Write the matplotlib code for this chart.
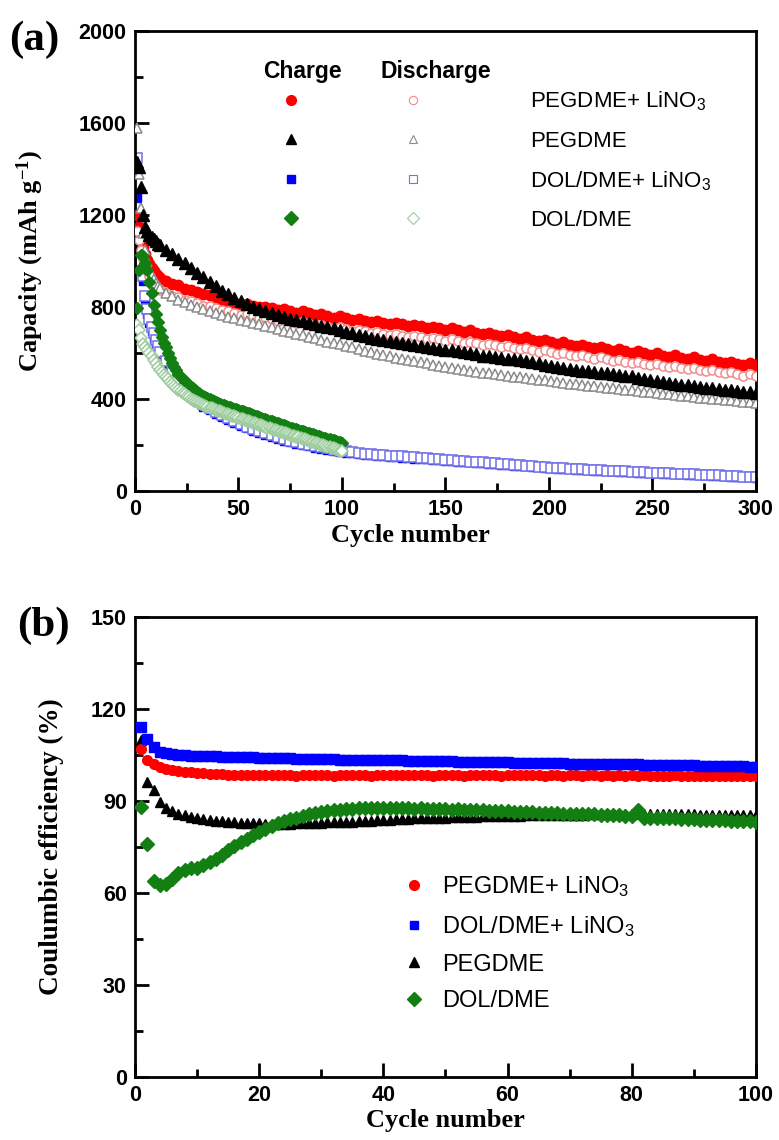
import matplotlib
matplotlib.use('Agg')
import matplotlib.pyplot as plt
from matplotlib.lines import Line2D
from matplotlib.legend_handler import HandlerTuple
from matplotlib.ticker import MultipleLocator

plt.rcParams['mathtext.default'] = 'regular'

# ---------------- (a) capacity vs cycle ----------------
# long runs (300 cycles): every cycle up to 12, then every 3rd cycle
cyc_long = list(range(1, 13)) + list(range(15, 301, 3))

peg_lino3_chg = [1200, 1150, 1100, 1060, 1030, 1005, 985, 968, 955, 945, 935, 928,
                 915, 902, 895, 880, 874, 866, 855, 852, 843, 832, 828, 818, 812, 814, 806, 798,
                 802, 794, 786, 790, 783, 775, 781, 772, 764, 770, 762, 754, 760, 752, 744, 750,
                 741, 733, 739, 731, 724, 731, 724, 716, 723, 716, 708, 715, 707, 700, 707, 699,
                 692, 698, 689, 682, 688, 679, 672, 678, 668, 661, 668, 658, 651, 657, 648, 640,
                 646, 636, 629, 634, 626, 620, 626, 616, 610, 617, 607, 601, 608, 598, 592, 598,
                 589, 583, 590, 580, 574, 581, 571, 565, 572, 562, 556, 563, 553, 548, 556, 550]
peg_lino3_dis = [1130, 1090, 1050, 1010, 980, 955, 935, 918, 905, 893, 883, 875,
                 860, 850, 842, 830, 824, 816, 806, 803, 795, 785, 782, 773, 767, 769, 761, 753,
                 757, 749, 741, 745, 737, 729, 734, 726, 718, 723, 715, 707, 712, 704, 697, 702,
                 694, 686, 692, 684, 677, 683, 676, 669, 675, 668, 661, 667, 660, 653, 659, 652,
                 645, 650, 643, 636, 641, 633, 626, 631, 623, 616, 621, 613, 606, 611, 603, 596,
                 601, 593, 586, 591, 583, 576, 581, 572, 565, 571, 562, 556, 562, 553, 547, 553,
                 544, 538, 544, 535, 529, 535, 526, 520, 526, 517, 511, 517, 508, 502, 508, 500]
peg_chg = [1430, 1410, 1320, 1200, 1150, 1130, 1115, 1105, 1095, 1085, 1075, 1068,
           1048, 1030, 1010, 990, 970, 950, 930, 910, 890, 870, 855, 840, 825, 812, 800, 790,
           781, 772, 764, 757, 750, 743, 737, 731, 725, 719, 713, 707, 700, 693, 686, 680,
           673, 667, 660, 655, 651, 647, 643, 639, 635, 631, 627, 623, 619, 615, 611, 607,
           603, 599, 594, 589, 585, 582, 578, 575, 572, 569, 566, 562, 555, 548, 543, 539,
           535, 531, 527, 523, 520, 517, 514, 511, 508, 505, 502, 498, 493, 488, 483, 478,
           474, 470, 466, 463, 460, 456, 453, 450, 447, 444, 441, 438, 435, 432, 429, 426]
peg_dis = [1580, 1380, 1230, 1120, 1050, 1000, 965, 940, 920, 905, 892, 882,
           862, 846, 832, 820, 809, 799, 790, 781, 773, 765, 758, 751, 744, 737, 731, 725,
           718, 711, 704, 697, 690, 684, 678, 671, 664, 657, 650, 643, 637, 630, 624, 617,
           610, 603, 597, 591, 585, 580, 575, 570, 565, 560, 555, 550, 545, 541, 536, 531,
           527, 523, 519, 515, 511, 508, 504, 500, 497, 494, 490, 487, 484, 481, 478, 475,
           471, 467, 464, 461, 458, 455, 452, 449, 446, 443, 440, 437, 434, 431, 429, 426,
           423, 420, 417, 415, 412, 409, 406, 404, 402, 399, 396, 394, 391, 388, 386, 383]
dol_lino3_chg = [1275, 1060, 975, 915, 830, 770, 730, 695, 665, 637, 612, 590,
                 550, 505, 466, 436, 408, 386, 367, 350, 335, 320, 307, 294, 283, 272, 262, 252,
                 244, 235, 227, 219, 213, 206, 200, 194, 189, 184, 180, 175, 171, 167, 164, 161,
                 158, 155, 153, 151, 149, 147, 145, 143, 141, 139, 137, 135, 133, 131, 129, 127,
                 126, 124, 122, 120, 118, 116, 114, 112, 110, 109, 107, 105, 103, 101, 99, 97,
                 96, 94, 93, 92, 90, 89, 87, 86, 85, 84, 82, 81, 80, 79, 78, 77,
                 76, 75, 73, 72, 71, 70, 69, 68, 67, 65, 64, 63, 62, 60, 59, 58]
dol_lino3_dis = [1450, 1160, 1000, 935, 850, 790, 750, 715, 685, 655, 630, 605,
                 565, 520, 480, 448, 420, 398, 378, 360, 345, 330, 316, 303, 291, 280, 270, 260,
                 251, 242, 234, 226, 219, 212, 206, 200, 195, 190, 185, 180, 176, 172, 169, 166,
                 163, 160, 158, 156, 154, 152, 150, 148, 146, 144, 142, 140, 138, 136, 134, 132,
                 130, 128, 126, 124, 122, 120, 118, 116, 114, 112, 110, 108, 106, 104, 102, 100,
                 99, 97, 96, 94, 93, 91, 90, 89, 87, 86, 85, 84, 83, 82, 80, 79,
                 78, 77, 76, 75, 74, 73, 71, 70, 69, 68, 66, 65, 64, 63, 62, 60]

# DOL/DME: 100 cycles, every cycle
cyc_100 = list(range(1, 101))
dol_chg = [795, 960, 1025, 1020, 990, 960, 910, 860, 810, 770, 735, 700, 670, 645, 625, 600,
           578, 558, 540, 525, 510, 497, 488, 480, 470, 462, 454, 446, 438, 431, 425, 419,
           413, 408, 403, 398, 394, 390, 386, 382, 379, 376, 373, 370, 367, 364, 361, 358,
           355, 352, 349, 346, 343, 340, 337, 334, 331, 328, 325, 322, 318, 315, 312, 309,
           306, 303, 300, 297, 294, 291, 288, 285, 282, 279, 276, 273, 270, 268, 265, 262,
           260, 257, 254, 251, 248, 246, 243, 240, 237, 235, 232, 230, 227, 225, 222, 220,
           217, 215, 212, 209]
dol_dis = [720, 700, 665, 640, 625, 612, 600, 585, 570, 555, 540, 528, 516, 505, 495, 485,
           475, 466, 457, 449, 441, 434, 427, 420, 414, 408, 402, 397, 392, 387, 383, 379,
           375, 371, 367, 363, 360, 356, 352, 349, 346, 342, 339, 336, 333, 330, 327, 324,
           321, 318, 315, 312, 309, 306, 303, 300, 297, 294, 291, 288, 285, 282, 279, 276,
           273, 270, 267, 264, 261, 258, 255, 252, 250, 247, 244, 241, 238, 236, 233, 230,
           227, 224, 221, 218, 215, 212, 210, 207, 204, 201, 198, 196, 193, 190, 188, 185,
           182, 179, 176, 172]

# ---------------- (b) coulombic efficiency ----------------
ce_peg_lino3 = [107.0, 103.5, 102.0, 101.0, 100.4, 100.0, 99.7, 99.5, 99.3, 99.1, 99.0, 98.9,
                98.8, 98.7, 98.6, 98.6, 98.5, 98.5, 98.4, 98.4, 98.5, 98.4, 98.6, 98.4, 98.5,
                98.3, 98.5, 98.4, 98.6, 98.4, 98.5, 98.3, 98.6, 98.5, 98.4, 98.6, 98.5, 98.3,
                98.5, 98.4, 98.6, 98.5, 98.4, 98.5, 98.6, 98.4, 98.5, 98.3, 98.5, 98.6, 98.4,
                98.5, 98.3, 98.5, 98.4, 98.6, 98.4, 98.5, 98.3, 98.5, 98.4, 98.5, 98.6, 98.4,
                98.5, 98.3, 98.5, 98.4, 98.3, 98.5, 98.4, 98.3, 98.5, 98.4, 98.2, 98.4, 98.3,
                98.5, 98.3, 98.4, 98.2, 98.4, 98.3, 98.1, 98.3, 98.2, 98.4, 98.2, 98.3, 98.1,
                98.3, 98.2, 98.0, 98.2, 98.1, 98.3, 98.1, 98.0, 98.2, 98.0]
ce_dol_lino3 = [114.0, 110.3, 107.5, 106.0, 105.5, 105.2, 105.0, 104.9, 104.8, 104.7, 104.6,
                104.5, 104.5, 104.4, 104.4, 104.3, 104.3, 104.2, 104.2, 104.1, 104.1, 104.0,
                104.0, 103.9, 103.9, 103.8, 103.8, 103.7, 103.7, 103.7, 103.6, 103.6, 103.5,
                103.5, 103.5, 103.4, 103.4, 103.3, 103.3, 103.3, 103.2, 103.2, 103.2, 103.1,
                103.1, 103.0, 103.0, 103.0, 102.9, 102.9, 102.9, 102.8, 102.8, 102.8, 102.7,
                102.7, 102.7, 102.6, 102.6, 102.6, 102.5, 102.5, 102.5, 102.4, 102.4, 102.4,
                102.3, 102.3, 102.3, 102.2, 102.2, 102.2, 102.1, 102.1, 102.1, 102.0, 102.0,
                102.0, 101.9, 101.9, 101.9, 101.8, 101.8, 101.8, 101.7, 101.7, 101.7, 101.6,
                101.6, 101.6, 101.5, 101.5, 101.5, 101.4, 101.4, 101.4, 101.3, 101.3, 101.2,
                101.2]
ce_peg = [110.0, 96.2, 93.6, 89.5, 87.8, 86.7, 85.9, 85.3, 84.8, 84.4, 84.1, 83.8, 83.6,
          83.4, 83.2, 83.0, 82.9, 82.8, 82.7, 82.7, 82.6, 82.6, 82.6, 82.6, 82.6, 82.7, 82.7,
          82.8, 82.8, 82.9, 83.0, 83.1, 83.1, 83.2, 83.3, 83.4, 83.5, 83.6, 83.7, 83.8, 83.9,
          84.0, 84.1, 84.2, 84.3, 84.4, 84.4, 84.5, 84.6, 84.6, 84.7, 84.8, 84.8, 84.9, 84.9,
          85.0, 85.0, 85.1, 85.1, 85.1, 85.2, 85.2, 85.3, 85.3, 85.3, 85.4, 85.4, 85.4, 85.5,
          85.5, 85.5, 85.5, 85.6, 85.6, 85.6, 85.6, 85.7, 85.7, 85.7, 85.8, 86.0, 85.7, 85.7,
          85.7, 85.6, 85.6, 85.6, 85.6, 85.6, 85.6, 85.5, 85.5, 85.5, 85.5, 85.5, 85.5, 85.4,
          85.4, 85.4, 85.4]
ce_dol = [88.0, 76.0, 64.0, 62.5, 63.0, 64.5, 66.5, 67.5, 68.0, 68.3, 69.0, 70.0, 71.2, 72.5,
          74.0, 75.3, 76.5, 77.7, 78.9, 80.0, 81.0, 81.9, 82.7, 83.4, 84.0, 84.6, 85.1, 85.6,
          86.0, 86.4, 86.7, 87.0, 87.2, 87.4, 87.5, 87.6, 87.7, 87.8, 87.8, 87.8, 87.7, 87.8,
          87.6, 87.7, 87.5, 87.6, 87.4, 87.5, 87.3, 87.4, 87.2, 87.3, 87.1, 87.1, 86.9, 87.0,
          86.8, 86.8, 86.6, 86.6, 86.5, 86.5, 86.3, 86.4, 86.2, 86.2, 86.0, 86.1, 85.9, 85.8,
          85.8, 85.7, 85.6, 85.6, 85.4, 85.5, 85.3, 85.3, 85.1, 85.0, 87.0, 84.5, 84.6, 84.4,
          84.4, 84.3, 84.3, 84.1, 84.2, 84.0, 83.9, 83.9, 83.8, 83.7, 83.7, 83.6, 83.5, 83.5,
          83.4, 83.3]

names = ['PEGDME+ LiNO$_3$', 'PEGDME', 'DOL/DME+ LiNO$_3$', 'DOL/DME']

SANS = 'Liberation Sans'
SERIF = 'Liberation Serif'
RED, BLACK, BLUE, GREEN = '#ff0000', 'black', '#0000ff', '#137f13'

fig = plt.figure(figsize=(7.79, 11.40), dpi=100)
ax1 = fig.add_axes([0.1733, 0.5693, 0.797, 0.4035])
ax2 = fig.add_axes([0.1733, 0.0553, 0.797, 0.4035])

# capacity curves
ax1.plot(cyc_long, dol_lino3_chg, 's', color=BLUE, ms=6, zorder=2)
ax1.plot(cyc_long, dol_lino3_dis, 's', mfc='white', mec='#7070e8', ms=6.5, mew=1.1, zorder=2)
ax1.plot(cyc_long, peg_lino3_chg, 'o', color=RED, ms=7.5, zorder=3)
ax1.plot(cyc_long, peg_lino3_dis, 'o', mfc='white', mec='#f08c8c', ms=6.5, mew=1.1, zorder=3)
ax1.plot(cyc_long, peg_dis, '^', mfc='white', mec='#8a8a8a', ms=7, mew=1.1, zorder=4)
ax1.plot(cyc_long, peg_chg, '^', color=BLACK, ms=8, zorder=5)
ax1.plot(cyc_100, dol_chg, 'D', color=GREEN, ms=6.5, zorder=6)
ax1.plot(cyc_100, dol_dis, 'D', mfc='white', mec='#9ccc9c', ms=6.5, mew=1.1, zorder=6)

ax1.set_xlim(0, 300)
ax1.set_ylim(0, 2000)
ax1.xaxis.set_major_locator(MultipleLocator(50))
ax1.xaxis.set_minor_locator(MultipleLocator(25))
ax1.yaxis.set_major_locator(MultipleLocator(400))
ax1.yaxis.set_minor_locator(MultipleLocator(200))

# legend (a): charge / discharge markers side by side
h_chg = [Line2D([], [], ls='', marker='o', color=RED, ms=7),
         Line2D([], [], ls='', marker='^', color=BLACK, ms=7.5),
         Line2D([], [], ls='', marker='s', color=BLUE, ms=6),
         Line2D([], [], ls='', marker='D', color=GREEN, ms=7)]
h_dis = [Line2D([], [], ls='', marker='o', mfc='white', mec='#f08c8c', ms=6, mew=0.8),
         Line2D([], [], ls='', marker='^', mfc='white', mec='#8a8a8a', ms=6, mew=0.8),
         Line2D([], [], ls='', marker='s', mfc='white', mec='#7070e8', ms=5.5, mew=0.8),
         Line2D([], [], ls='', marker='D', mfc='white', mec='#9ccc9c', ms=6, mew=0.8)]
ax1.legend([(c, d) for c, d in zip(h_chg, h_dis)], names,
           handler_map={tuple: HandlerTuple(ndivide=None, pad=0)},
           loc='upper left', bbox_to_anchor=(0.153, 0.872), frameon=False,
           borderaxespad=0, borderpad=0, handlelength=11.0, handletextpad=2.5,
           labelspacing=0.78, prop={'family': SANS, 'size': 16})
ax1.text(0.206, 0.913, 'Charge', transform=ax1.transAxes, ha='left', va='center',
         family=SANS, weight='bold', size=16.5)
ax1.text(0.395, 0.913, 'Discharge', transform=ax1.transAxes, ha='left', va='center',
         family=SANS, weight='bold', size=16.5)

ax1.set_ylabel('Capacity (mAh g$^{-1}$)', family=SERIF, weight='bold', size=19)
ax1.set_xlabel('Cycle number', family=SERIF, weight='bold', size=19)
ax1.yaxis.set_label_coords(-0.143, 0.5)
ax1.xaxis.set_label_coords(0.443, -0.072)

# efficiency
ax2.plot(cyc_100, ce_peg, '^', color=BLACK, ms=7.5, zorder=2)
ax2.plot(cyc_100, ce_dol, 'D', color=GREEN, ms=7, zorder=3)
ax2.plot(cyc_100, ce_peg_lino3, 'o', color=RED, ms=7, zorder=4)
ax2.plot(cyc_100, ce_dol_lino3, 's', color=BLUE, ms=7, zorder=5)

ax2.set_xlim(0, 100)
ax2.set_ylim(0, 150)
ax2.xaxis.set_major_locator(MultipleLocator(20))
ax2.xaxis.set_minor_locator(MultipleLocator(10))
ax2.yaxis.set_major_locator(MultipleLocator(30))
ax2.yaxis.set_minor_locator(MultipleLocator(15))

h2 = [Line2D([], [], ls='', marker='o', color=RED, ms=7),
      Line2D([], [], ls='', marker='s', color=BLUE, ms=6),
      Line2D([], [], ls='', marker='^', color=BLACK, ms=7),
      Line2D([], [], ls='', marker='D', color=GREEN, ms=7)]
ax2.legend(h2, [names[0], names[2], names[1], names[3]], loc='upper left',
           bbox_to_anchor=(0.434, 0.44), frameon=False, borderaxespad=0, borderpad=0,
           handlelength=0.8, handletextpad=0.8, labelspacing=0.62,
           prop={'family': SANS, 'size': 17})

ax2.set_ylabel('Coulumbic efficiency (%)', family=SERIF, weight='bold', size=19.5)
ax2.set_xlabel('Cycle number', family=SERIF, weight='bold', size=19)
ax2.yaxis.set_label_coords(-0.115, 0.5)
ax2.xaxis.set_label_coords(0.5, -0.07)

for ax in (ax1, ax2):
    for sp in ax.spines.values():
        sp.set_linewidth(2)
    ax.tick_params(which='both', direction='in', top=False, right=False, width=2, pad=6)
    ax.tick_params(which='major', length=10)
    ax.tick_params(which='minor', length=6)
    for lab in ax.get_xticklabels() + ax.get_yticklabels():
        lab.set_family(SANS)
        lab.set_weight('bold')
        lab.set_size(15.5)

fig.text(0.012, 0.965, '(a)', family=SERIF, weight='bold', size=31, va='center')
fig.text(0.022, 0.451, '(b)', family=SERIF, weight='bold', size=31, va='center')

fig.savefig('out.png', dpi=100)
